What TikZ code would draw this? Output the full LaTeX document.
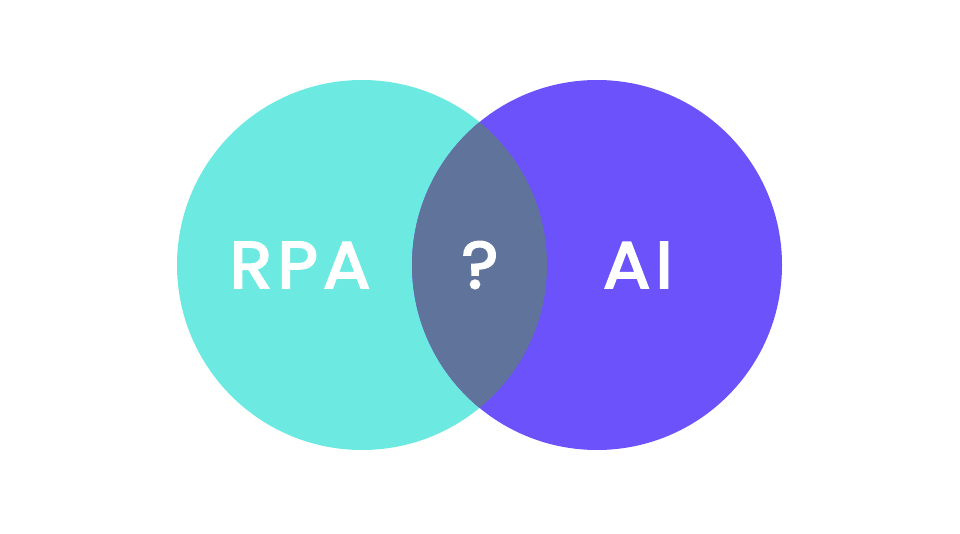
\documentclass[tikz,border=0pt]{standalone}
\usepackage{fontspec}
\newfontfamily\vennfont{Poppins}[FakeBold=3, LetterSpace=8, FakeStretch=1.06]
\definecolor{RPATeal}{RGB}{108, 234, 226}
\definecolor{AIViolet}{RGB}{108, 82, 250}
\definecolor{MixSlate}{RGB}{96, 116, 155}

\begin{document}
\begin{tikzpicture}[x=1pt, y=1pt,
        vennlabel/.style={text=white, font=\vennfont\fontsize{66}{66}\selectfont, inner sep=0pt}]
        \useasboundingbox (0,0) rectangle (960,533);
        \node[circle, fill=RPATeal, minimum size=370pt, inner sep=0pt] (rpa) at (362,268) {};
        \node[circle, fill=AIViolet, minimum size=370pt, inner sep=0pt] (ai) at (597,268) {};
        \begin{scope}
            \clip (rpa.center) circle (185pt);
            \fill[MixSlate] (ai.center) circle (185pt);
        \end{scope}
        \node[vennlabel] (rpaText) at (300,268) {RPA};
        \node[vennlabel] (aiText) at (638,268) {AI};
        \node[vennlabel] (ask) at (480,268) {?};
    \end{tikzpicture}
\end{document}
